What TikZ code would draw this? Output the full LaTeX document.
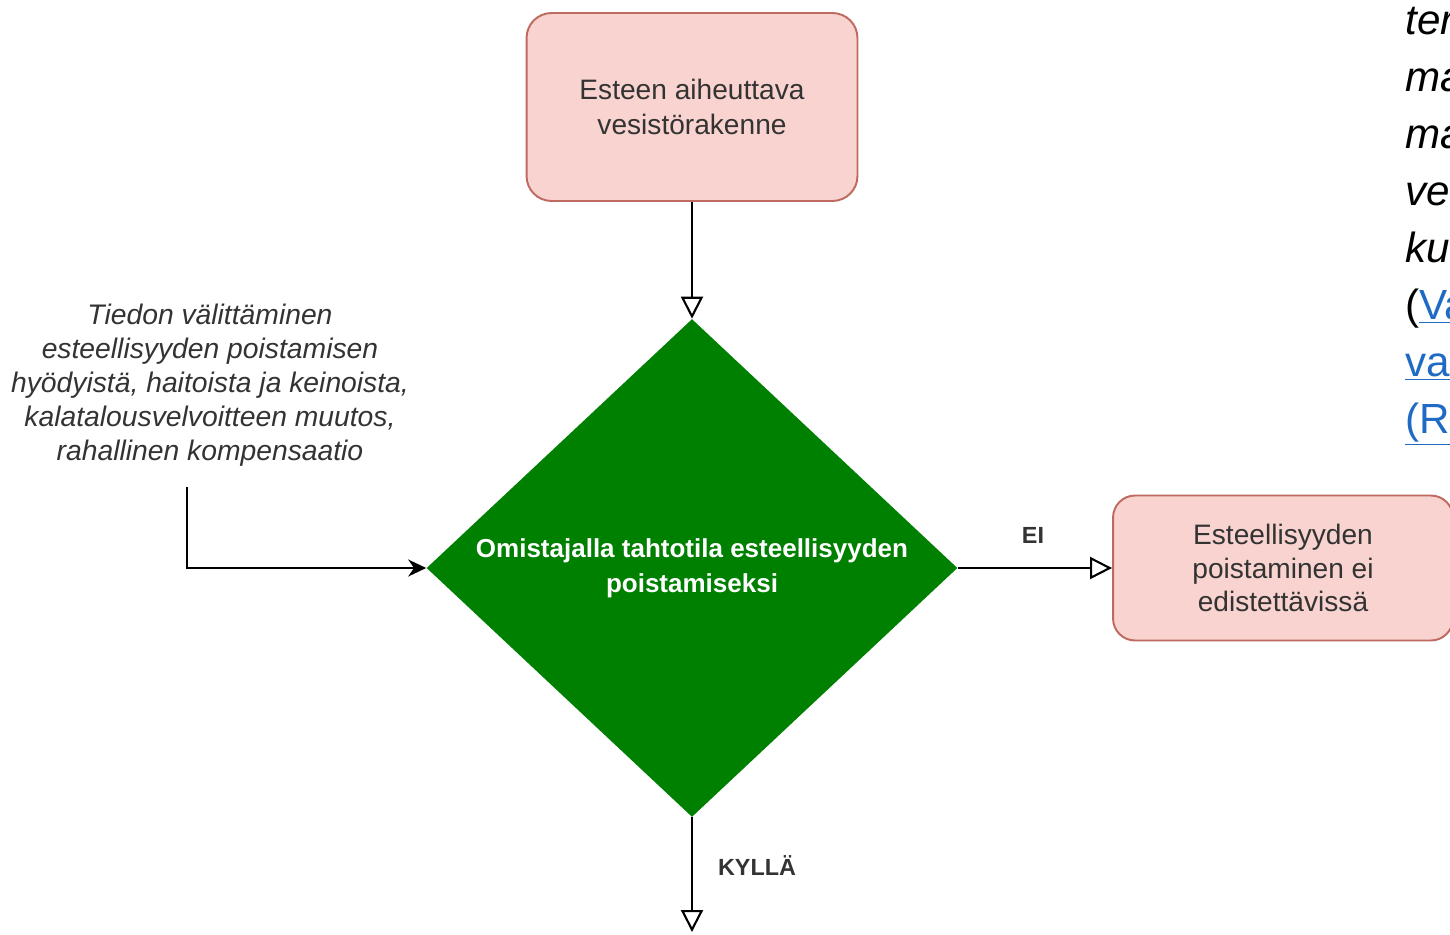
\documentclass[tikz,border=0pt]{standalone}
\usepackage{fontspec}
\setmainfont{Liberation Sans}
\usetikzlibrary{arrows.meta, shapes.geometric}

\definecolor{boxfill}{HTML}{F8D3CF}
\definecolor{boxline}{HTML}{BF6A60}
\definecolor{choice}{HTML}{008000}
\definecolor{ink}{HTML}{333333}
\definecolor{linkblue}{HTML}{1F6BC4}

\tikzset{
	endbox/.style = {draw = boxline, fill = boxfill, line width = 1.1pt, rounded corners = 0.5cm,
		align = center, text = ink, font = \fontsize{16}{20.4}\selectfont},
	choicebox/.style = {diamond, fill = choice, inner sep = 0pt, aspect = 1.066,
		minimum width = 10.62cm, minimum height = 9.96cm, align = center, text = white,
		font = \bfseries\fontsize{14.8}{19.8}\selectfont},
	flow/.style = {line width = 1.2pt, -{Triangle[open, length = 0.44cm, width = 0.44cm]}},
	answer/.style = {text = ink, font = \bfseries\fontsize{13.3}{16}\selectfont},
	cutline/.style = {anchor = base west, inner sep = 0pt}
}

\begin{document}
\begin{tikzpicture}[x = 0.02cm, y = -0.02cm]

	\useasboundingbox (0, 0) rectangle (1450, 934);
	\clip (0, 0) rectangle (1450, 934);

	% Boxes

	\node [endbox, minimum width = 6.62cm, minimum height = 3.76cm] (rakenne) at (692, 107)
		{Esteen aiheuttava\\vesistörakenne};
	\node [choicebox] (tahto) at (692, 568)
		{Omistajalla tahtotila esteellisyyden\\poistamiseksi};
	\node [endbox, rounded corners = 0.44cm, minimum width = 6.8cm, minimum height = 2.9cm,
		font = \fontsize{16}{19.3}\selectfont] (eiedist) at (1283, 568)
		{Esteellisyyden\\poistaminen ei\\edistettävissä};

	% Side note

	\node [align = center, text = ink, font = \itshape\fontsize{16.1}{19.3}\selectfont] (keinot) at (210, 385)
		{Tiedon välittäminen\\esteellisyyden poistamisen\\hyödyistä, haitoista ja keinoista,\\kalatalousvelvoitteen muutos,\\rahallinen kompensaatio};
	\coordinate (keinotalku) at (187, 487);
	\coordinate (jatko) at (692, 932);

	% Connectors

	\draw [flow] (rakenne) -- (tahto.north);
	\draw [flow] (tahto.east) -- (eiedist.west);
	\draw [flow] (tahto.south) -- (jatko);
	\draw [line width = 1.2pt, -{Stealth[length = 0.36cm, width = 0.34cm]}] (keinotalku) |- (tahto.west);

	% Answers

	\node [answer] (ei) at (1033, 535) {EI};
	\node [answer] (kylla) at (757, 866) {KYLLÄ};

	% Text cut at the right edge

	\begin{scope}[font = \itshape\fontsize{24}{32}\selectfont]
		\node [cutline] (r1) at (1405, 34) {ter};
		\node [cutline] (r2) at (1405, 91) {ma};
		\node [cutline] (r3) at (1405, 148) {ma};
		\node [cutline] (r4) at (1405, 205) {ve};
		\node [cutline] (r5) at (1405, 262) {ku};
	\end{scope}
	\begin{scope}[font = \fontsize{24}{32}\selectfont]
		\node [cutline] (r6) at (1405, 319) {(\textcolor{linkblue}{\underline{Va}})};
		\node [cutline, text = linkblue] (r7) at (1405, 376) {\underline{va}};
		\node [cutline, text = linkblue] (r8) at (1405, 433) {\underline{(R}};
	\end{scope}

\end{tikzpicture}
\end{document}
